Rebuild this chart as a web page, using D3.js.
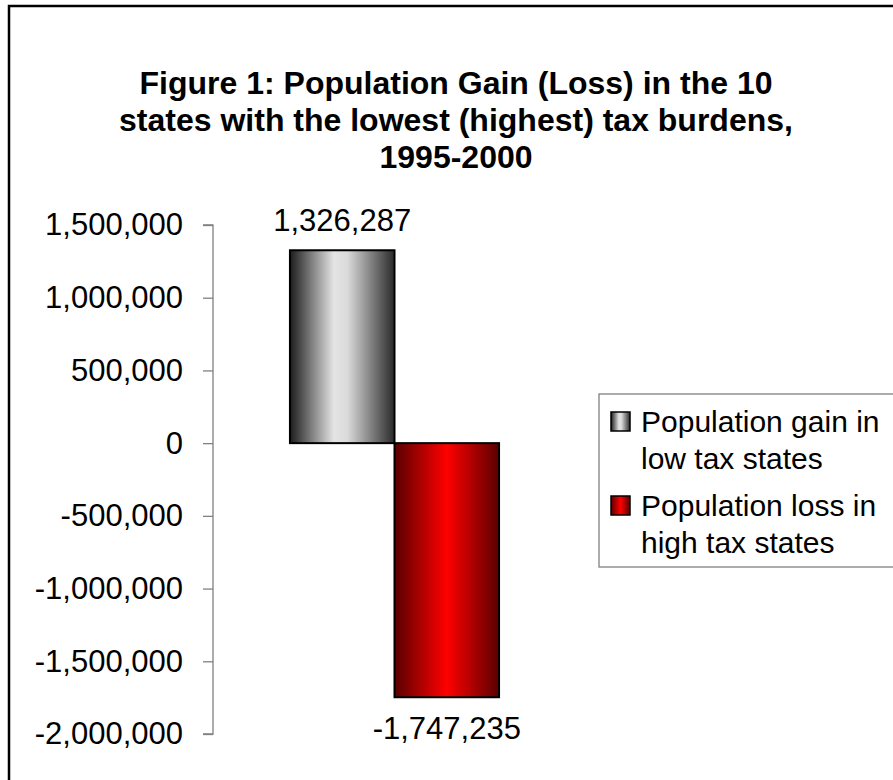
<!DOCTYPE html>
<html>
<head>
<meta charset="utf-8">
<script src="https://cdn.jsdelivr.net/npm/d3@7"></script>
<style>
  body { margin: 0; background: #fff; }
  svg { display: block; font-family: "Liberation Sans", Arial, sans-serif; }
</style>
</head>
<body>
<svg width="893" height="780"></svg>
<script>
var titleLines = ['Figure 1: Population Gain (Loss) in the 10',
    'states with the lowest (highest) tax burdens,',
    '1995-2000'];
var categories = ['1995-2000'];
var seriesNames = ['Population gain in low tax states', 'Population loss in high tax states'];
var legendLines = [['Population gain in', 'low tax states'], ['Population loss in', 'high tax states']];
var values = [1326287, -1747235];
var yTicks = [1500000, 1000000, 500000, 0, -500000, -1000000, -1500000, -2000000];

var fmt = function (d) { return d3.format(',')(d).replace('\u2212', '-'); };

var svg = d3.select('svg');
var defs = svg.append('defs');

var grads = [
    { id: 'gGray', stops: [['0%', '#1c1c1c'], ['42%', '#e4e4e4'], ['55%', '#dadada'], ['100%', '#2a2a2a']] },
    { id: 'gRed', stops: [['0%', '#5a0000'], ['50%', '#ff0000'], ['100%', '#5a0000']] }
];
grads.forEach(function (g) {
    var lg = defs.append('linearGradient').attr('id', g.id)
        .attr('x1', '0%').attr('x2', '100%').attr('y1', '0%').attr('y2', '0%');
    g.stops.forEach(function (s) {
        lg.append('stop').attr('offset', s[0]).attr('stop-color', s[1]);
    });
});
var fills = ['url(#gGray)', 'url(#gRed)'];

// chart frame
svg.append('rect')
    .attr('x', 9).attr('y', 6).attr('width', 920).attr('height', 800)
    .attr('fill', 'none').attr('stroke', '#000').attr('stroke-width', 2.5);

// title
svg.append('g').selectAll('text')
    .data(titleLines)
    .join('text')
    .attr('x', 456)
    .attr('y', function (d, i) { return 94 + i * 37; })
    .attr('text-anchor', 'middle')
    .style('font-weight', 'bold')
    .style('font-size', '32px')
    .text(function (d) { return d; });

var y = d3.scaleLinear().domain([-2000000, 1500000]).range([734, 225]);
var x0 = d3.scaleBand().domain(categories).range([213, 576]).paddingInner(0.269).paddingOuter(0.269);
var x1 = d3.scaleBand().domain(seriesNames).range([0, x0.bandwidth()]);

// y axis
var yAxis = svg.append('g')
    .attr('transform', 'translate(213,0)')
    .call(d3.axisLeft(y).tickValues(yTicks).tickSize(10).tickPadding(20)
        .tickFormat(fmt));
yAxis.selectAll('path, line').attr('stroke', '#808080').attr('stroke-width', 1.3);
yAxis.select('.domain').attr('d', 'M-10,' + y(1500000) + 'H0V' + y(-2000000) + 'H-10');
yAxis.selectAll('text')
    .attr('fill', '#000')
    .style('font-family', '"Liberation Sans", Arial, sans-serif')
    .style('font-size', '31px');

// bars
svg.append('g').selectAll('rect')
    .data(values)
    .join('rect')
    .attr('x', function (d, i) { return x0(categories[0]) + x1(seriesNames[i]); })
    .attr('width', x1.bandwidth())
    .attr('y', function (d) { return y(Math.max(0, d)); })
    .attr('height', function (d) { return Math.abs(y(d) - y(0)); })
    .attr('fill', function (d, i) { return fills[i]; })
    .attr('stroke', '#000')
    .attr('stroke-width', 2);

// data labels
svg.append('g').selectAll('text')
    .data(values)
    .join('text')
    .attr('x', function (d, i) { return x0(categories[0]) + x1(seriesNames[i]) + x1.bandwidth() / 2; })
    .attr('y', function (d) { return d >= 0 ? y(d) - 19 : y(d) + 42; })
    .attr('text-anchor', 'middle')
    .style('font-size', '31px')
    .text(fmt);

// legend
var legend = svg.append('g');
legend.append('rect')
    .attr('x', 599).attr('y', 394).attr('width', 320).attr('height', 173)
    .attr('fill', '#fff').attr('stroke', '#808080').attr('stroke-width', 1.3);

var items = legend.selectAll('g.item')
    .data(seriesNames)
    .join('g')
    .attr('class', 'item')
    .attr('transform', function (d, i) { return 'translate(0,' + (i * 84) + ')'; });

items.append('rect')
    .attr('x', 611).attr('y', 412).attr('width', 19).attr('height', 19)
    .attr('fill', function (d, i) { return fills[i]; })
    .attr('stroke', '#000').attr('stroke-width', 1.5);

items.append('text')
    .style('font-size', '30px')
    .selectAll('tspan')
    .data(function (d, i) { return legendLines[i]; })
    .join('tspan')
    .attr('x', 641)
    .attr('y', function (d, j) { return 432 + j * 37; })
    .text(function (d) { return d; });
</script>
</body>
</html>
